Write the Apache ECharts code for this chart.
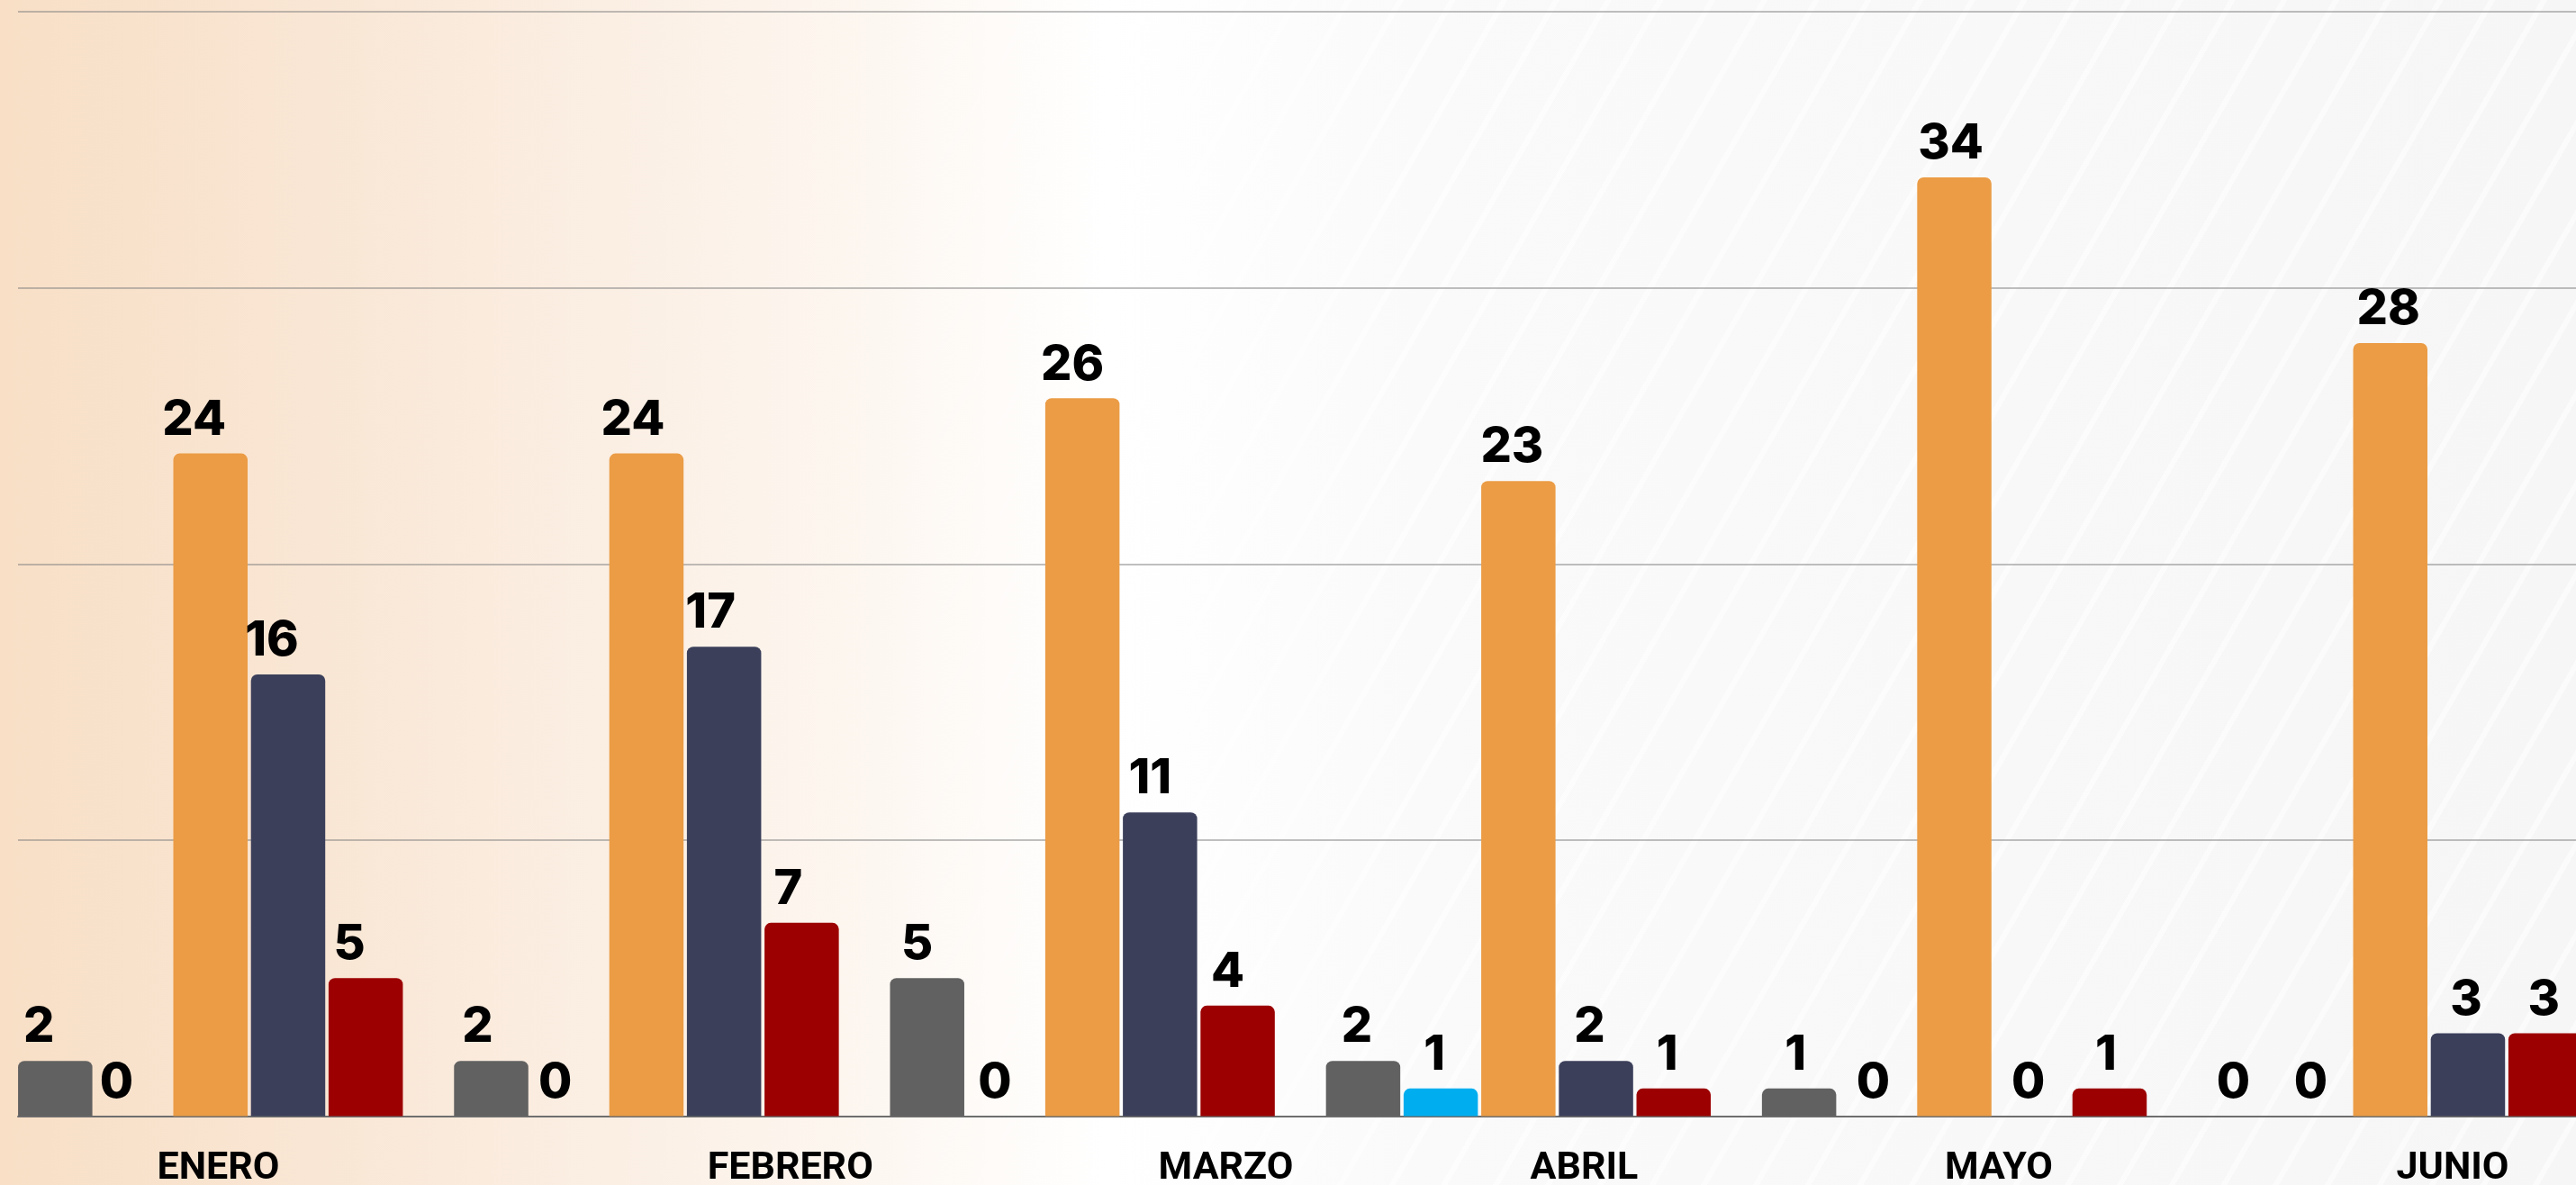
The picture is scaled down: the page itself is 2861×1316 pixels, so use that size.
<!DOCTYPE html>
<html>
<head>
<meta charset="utf-8">
<script src="https://cdn.jsdelivr.net/npm/echarts@6/dist/echarts.min.js"></script>
<style>
  html, body { margin: 0; padding: 0; }
  #wrap {
    position: relative;
    width: 2861px;
    height: 1316px;
    overflow: hidden;
    background: linear-gradient(to right, #f8dfc6 0%, #f9e6d4 12%, #fbefe4 24%, #fdf7f1 34%, #ffffff 43%, #fafafa 55%, #f6f6f6 100%);
  }
  #stripes {
    position: absolute;
    left: 0; top: 0; right: 0; bottom: 0;
    background: repeating-linear-gradient(120deg, rgba(255,255,255,0) 0 44px, rgba(255,255,255,0.55) 44px 50px);
    -webkit-mask-image: linear-gradient(to right, transparent 32%, black 55%);
    mask-image: linear-gradient(to right, transparent 32%, black 55%);
  }
  #chart { position: absolute; left: 0; top: 0; width: 2861px; height: 1316px; }
</style>
</head>
<body>
<div id="wrap">
  <div id="stripes"></div>
  <div id="chart"></div>
</div>
<script>
// months and where their labels sit (in category units)
var months = ['ENERO', 'FEBRERO', 'MARZO', 'ABRIL', 'MAYO', 'JUNIO']
var labelPos = [0.518, 1.83, 2.829, 3.651, 4.602, 5.643]

var grayData = [2, 2, 5, 2, 1, 0]
var blueData = [0, 0, 0, 1, 0, 0]
var orangeData = [24, 24, 26, 23, 34, 28]
var navyData = [16, 17, 11, 2, 0, 3]
var redData = [5, 7, 4, 1, 1, 3]

var myColor = ['#616161', '#00aeef', '#eb9c45', '#3b3f5a', '#9c0000']
// value labels drift a bit left of the bars on the left side of the picture
var labelShiftX = [-18, -15, -11, -7, -4, -2]

var chart = echarts.init(document.getElementById('chart'), null, { renderer: 'canvas' })

function barSeries(name, data, color) {
  return {
    name: name,
    type: 'bar',
    xAxisIndex: 0,
    yAxisIndex: 0,
    data: data.map(function(v, i) {
      return { value: v, label: { offset: [labelShiftX[i], 0] } }
    }),
    barWidth: 82.5,
    barGap: '4.5%',
    itemStyle: {
      color: color,
      borderRadius: [7, 7, 0, 0]
    },
    label: {
      show: true,
      position: 'top',
      distance: 10,
      color: '#000',
      fontFamily: 'Inter',
      fontWeight: 800,
      fontSize: 54
    },
    z: 3
  }
}

chart.setOption({
  backgroundColor: 'transparent',
  animation: false,
  grid: [{
    // bars: grid runs past the right edge, last group is cut off
    left: -8.35,
    width: 2905.2,
    top: 13,
    bottom: 76.5,
    containLabel: false,
    outerBoundsMode: 'none'
  }, {
    left: 20,
    right: 0,
    top: 13,
    bottom: 76.5,
    containLabel: false,
    outerBoundsMode: 'none'
  }],
  xAxis: [{
    type: 'category',
    gridIndex: 0,
    data: months,
    axisLine: { show: false },
    axisTick: { show: false },
    axisLabel: { show: false }
  }, {
    type: 'value',
    gridIndex: 0,
    min: 0,
    max: 6,
    position: 'bottom',
    axisLine: { show: false },
    axisTick: { show: false },
    splitLine: { show: false },
    axisLabel: {
      customValues: labelPos,
      margin: 37,
      color: '#000',
      fontFamily: 'Roboto',
      fontWeight: 'bold',
      fontSize: 43,
      formatter: function(value) {
        var i = labelPos.indexOf(value)
        return i >= 0 ? months[i] : ''
      }
    }
  }, {
    type: 'value',
    gridIndex: 1,
    min: 0,
    max: 1,
    axisLine: { show: true, lineStyle: { color: '#6e6e6e', width: 2 } },
    axisTick: { show: false },
    axisLabel: { show: false },
    splitLine: { show: false },
    z: 2
  }],
  yAxis: [{
    type: 'value',
    gridIndex: 0,
    min: 0,
    max: 40,
    interval: 10,
    show: false
  }, {
    type: 'value',
    gridIndex: 1,
    min: 0,
    max: 40,
    interval: 10,
    axisLine: { show: false },
    axisTick: { show: false },
    axisLabel: { show: false },
    splitLine: { show: true, lineStyle: { color: 'rgba(128,128,128,0.5)', width: 2 } }
  }],
  series: [
    barSeries('gris', grayData, myColor[0]),
    barSeries('azul', blueData, myColor[1]),
    barSeries('naranja', orangeData, myColor[2]),
    barSeries('marino', navyData, myColor[3]),
    barSeries('rojo', redData, myColor[4])
  ]
})
</script>
</body>
</html>
